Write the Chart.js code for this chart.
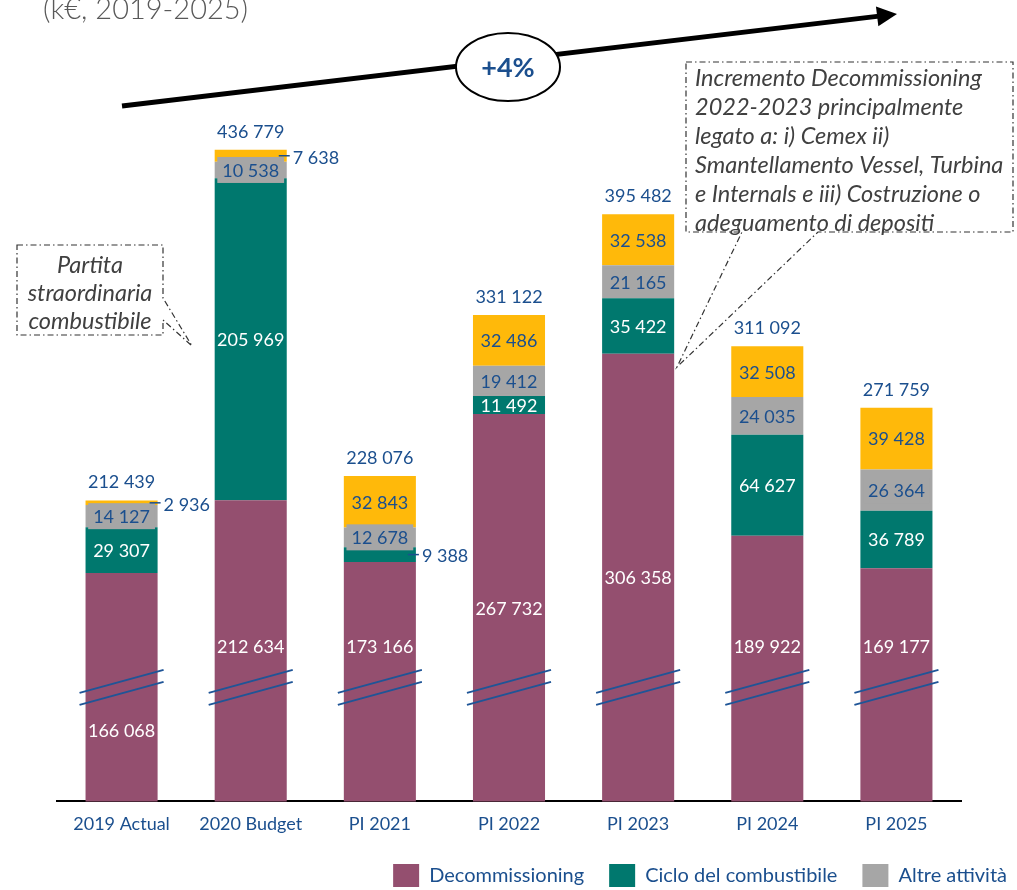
<!DOCTYPE html>
<html>
<head>
<meta charset="utf-8">
<script src="https://cdn.jsdelivr.net/npm/chart.js@4"></script>
<style>
  html, body { margin: 0; padding: 0; background: #fff; overflow: hidden; }
  #wrap { position: relative; width: 1017px; height: 900px; }
</style>
</head>
<body>
<div id="wrap"><canvas id="myChart"></canvas></div>
<script>
// dati (k€)
const categories = ['2019 Actual', '2020 Budget', 'PI 2021', 'PI 2022', 'PI 2023', 'PI 2024', 'PI 2025'];
const decommissioning = [166068, 212634, 173166, 267732, 306358, 189922, 169177];
const cicloCombustibile = [29307, 205969, 9388, 11492, 35422, 64627, 36789];
const altreAttivita = [14127, 10538, 12678, 19412, 21165, 24035, 26364];
const altro = [2936, 7638, 32843, 32486, 32538, 32508, 39428];
const totals = [212439, 436779, 228076, 331122, 395482, 311092, 271759];

const blue = '#1B4F8E';
const fmt = n => String(n).replace(/\B(?=(\d{3})+(?!\d))/g, ' ');

document.addEventListener("DOMContentLoaded", function () {
    const ctx = document.getElementById('myChart')?.getContext('2d');
    if (!ctx) {
        console.error("Element not found");
        return;
    }

    // etichette, segni di interruzione e annotazioni
    const overlay = {
        id: 'overlay',
        afterDatasetsDraw(chart) {
            const { ctx, chartArea } = chart;
            const breakY = chartArea.bottom - 114;
            const metas = chart.data.datasets.map((d, i) => chart.getDatasetMeta(i));
            ctx.save();
            ctx.textAlign = 'center';
            ctx.textBaseline = 'middle';

            categories.forEach((c, i) => {
                const first = metas[0].data[i];
                const half = first.width / 2;
                const cx = first.x;

                // interruzione asse
                ctx.strokeStyle = '#1F5597';
                ctx.lineWidth = 2;
                [-6, 6].forEach(off => {
                    ctx.beginPath();
                    ctx.moveTo(cx - half - 6, breakY + off + 11.5);
                    ctx.lineTo(cx + half + 6, breakY + off - 11.5);
                    ctx.stroke();
                });

                let stackTop = chartArea.bottom;
                metas.forEach((m, d) => {
                    const el = m.data[i];
                    const v = chart.data.datasets[d].data[i];
                    const top = el.y;
                    const bottom = Math.min(el.base, chartArea.bottom);
                    const h = bottom - top;
                    let y = (top + bottom) / 2;
                    stackTop = Math.min(stackTop, top);
                    ctx.font = '18px Lato';

                    if (h < 15.5) {
                        // etichetta esterna con linea guida
                        const right = cx + half;
                        ctx.strokeStyle = blue;
                        ctx.lineWidth = 1.5;
                        ctx.beginPath();
                        ctx.moveTo(right - 8, y);
                        ctx.lineTo(right + 3, y);
                        ctx.stroke();
                        ctx.fillStyle = blue;
                        ctx.textAlign = 'left';
                        ctx.fillText(fmt(v), right + 6, y + 2);
                        ctx.textAlign = 'center';
                        return;
                    }
                    if (d === 0) {
                        y = i === 0 ? breakY + 43 : Math.min(y, breakY - 41);
                    }
                    if (d === 2) {
                        const w = ctx.measureText(fmt(v)).width + 10;
                        ctx.fillStyle = '#A6A6A6';
                        ctx.fillRect(cx - w / 2, y - 13, w, 26);
                    }
                    ctx.fillStyle = d < 2 ? '#ffffff' : blue;
                    ctx.fillText(fmt(v), cx, y + 1);
                });

                // totale
                ctx.fillStyle = blue;
                ctx.font = '18px Lato';
                ctx.fillText(fmt(totals[i]), cx, stackTop - 18);
            });
            ctx.restore();
        },
        afterDraw(chart) {
            const { ctx } = chart;
            ctx.save();

            // titolo
            ctx.fillStyle = '#595959';
            ctx.font = '300 29px Lato';
            ctx.textAlign = 'left';
            ctx.textBaseline = 'alphabetic';
            ctx.fillText('(k€, 2019-2025)', 43, 19);

            // freccia di crescita
            const x0 = 122, y0 = 106, x1 = 897, y1 = 14;
            const ang = Math.atan2(y1 - y0, x1 - x0);
            const hx = x1 - 20 * Math.cos(ang), hy = y1 - 20 * Math.sin(ang);
            ctx.strokeStyle = '#000';
            ctx.lineWidth = 5;
            ctx.beginPath();
            ctx.moveTo(x0, y0);
            ctx.lineTo(hx + 2 * Math.cos(ang), hy + 2 * Math.sin(ang));
            ctx.stroke();
            ctx.fillStyle = '#000';
            ctx.beginPath();
            ctx.moveTo(x1, y1);
            ctx.lineTo(hx + 10 * Math.sin(ang), hy - 10 * Math.cos(ang));
            ctx.lineTo(hx - 10 * Math.sin(ang), hy + 10 * Math.cos(ang));
            ctx.closePath();
            ctx.fill();

            // ellisse +4%
            ctx.beginPath();
            ctx.ellipse(508, 67, 52, 34, 0, 0, Math.PI * 2);
            ctx.fillStyle = '#fff';
            ctx.fill();
            ctx.lineWidth = 2;
            ctx.stroke();
            ctx.fillStyle = blue;
            ctx.font = 'bold 27px Lato';
            ctx.textAlign = 'center';
            ctx.textBaseline = 'middle';
            ctx.fillText('+4%', 508, 68);

            // riquadri di commento
            ctx.strokeStyle = '#333';
            ctx.lineWidth = 1.2;
            ctx.setLineDash([6, 3, 1.5, 3]);
            ctx.beginPath();
            [[17, 245], [163, 245], [163, 298], [192, 346], [163, 320], [163, 335], [17, 335]]
                .forEach((p, k) => k ? ctx.lineTo(p[0], p[1]) : ctx.moveTo(p[0], p[1]));
            ctx.closePath();
            ctx.stroke();
            ctx.beginPath();
            [[686, 62], [1013, 62], [1013, 232], [818, 232], [677, 367], [742, 232], [686, 232]]
                .forEach((p, k) => k ? ctx.lineTo(p[0], p[1]) : ctx.moveTo(p[0], p[1]));
            ctx.closePath();
            ctx.stroke();
            ctx.setLineDash([]);

            ctx.fillStyle = '#404040';
            ctx.font = 'italic 23.5px Lato';
            ctx.textAlign = 'center';
            ['Partita', 'straordinaria', 'combustibile'].forEach((t, k) => ctx.fillText(t, 90, 265 + k * 28));
            ctx.textAlign = 'left';
            ['Incremento Decommissioning', '2022-2023 principalmente', 'legato a: i) Cemex ii)',
             'Smantellamento Vessel, Turbina', 'e Internals e iii) Costruzione o', 'adeguamento di depositi']
                .forEach((t, k) => ctx.fillText(t, 695, 78 + k * 29));
            ctx.restore();
        }
    };

    const data = {
        labels: categories,
        datasets: [
            { label: 'Decommissioning', data: decommissioning, backgroundColor: '#944F6F' },
            { label: 'Ciclo del combustibile', data: cicloCombustibile, backgroundColor: '#00786E' },
            { label: 'Altre attività', data: altreAttivita, backgroundColor: '#A6A6A6' },
            { label: 'Altro', data: altro, backgroundColor: '#FFB90A' }
        ]
    };

    const options = {
        responsive: true,
        maintainAspectRatio: false,
        animation: false,
        datasets: {
            bar: { categoryPercentage: 1, barPercentage: 0.558 }
        },
        layout: {
            padding: { left: 57, right: -15, top: 40, bottom: 3 }
        },
        scales: {
            x: {
                stacked: true,
                grid: { display: false },
                border: { display: true, color: '#000', width: 2 },
                ticks: { color: blue, font: { family: 'Lato', size: 18 }, padding: 4 }
            },
            y: {
                stacked: true,
                position: 'right',
                min: 20000,
                max: 507000,
                grid: { display: false },
                border: { display: false },
                ticks: { display: false },
                afterFit: scale => { scale.width = 71; }
            }
        },
        plugins: {
            legend: {
                position: 'bottom',
                align: 'end',
                labels: {
                    boxWidth: 26,
                    boxHeight: 23,
                    padding: 25,
                    color: blue,
                    font: { family: 'Lato', size: 20 },
                    filter: item => item.datasetIndex < 3
                }
            },
            title: { display: false },
            tooltip: { enabled: false }
        }
    };

    new Chart(ctx, {
        type: 'bar',
        data: data,
        options: options,
        plugins: [overlay]
    });
});
</script>
</body>
</html>
